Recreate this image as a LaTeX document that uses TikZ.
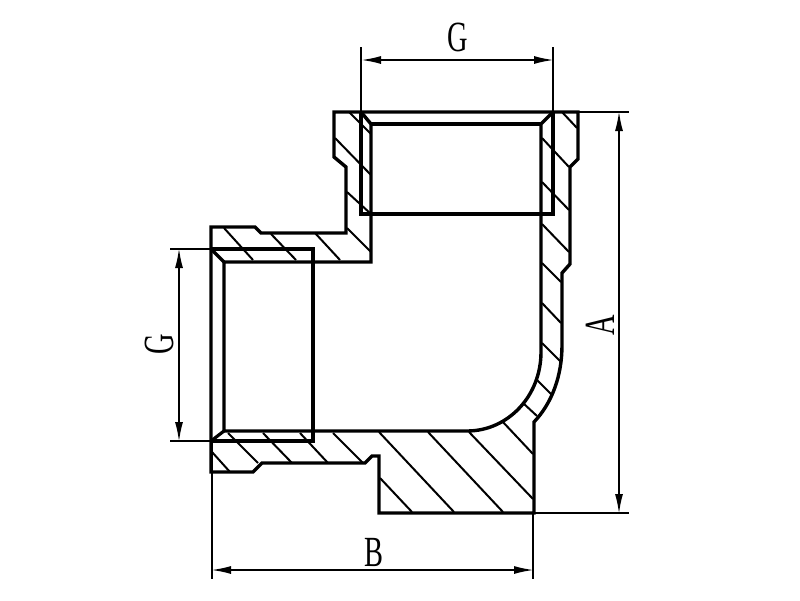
\documentclass[tikz,border=0pt]{standalone}
\usepackage{fontspec}
\setmainfont{Liberation Serif}
\usetikzlibrary{arrows.meta}
\tikzset{
  x=1pt,y=-1pt,
  body/.style={line width=3.4pt,line join=miter,black},
  inner/.style={line width=3.2pt,black},
  hatch/.style={line width=2pt,black},
  extline/.style={line width=1.7pt,black},
  dimline/.style={line width=1.9pt,black,{Latex[length=20pt,width=8pt]}-{Latex[length=20pt,width=8pt]},shorten >=-1pt,shorten <=-1pt},
  dimtext/.style={inner sep=0pt,font=\fontsize{43pt}{43pt}\selectfont},
}
\newcommand{\narrow}[1]{\scalebox{0.66}[1]{#1}}
\begin{document}
\begin{tikzpicture}
\useasboundingbox (0,0) rectangle (800,600);
% hatching
\foreach \a/\b/\c/\d in {
 349/112/371/134, 335/138/371/175, 347/192/371/214, 347/228/371/252,
 224/228/253/260, 271/234/296/260, 315/233/340/260,
 562/112/577/128, 542/138/569/167, 542/182/569/210, 542/224/569/252,
 542/263/561/282, 542/303/561/323, 542/343/561/362,
 536/379/552/395, 523/403/537/416, 502/421/533/454, 469/432/533/499,
 428/432/503/512, 379/432/454/512, 380/478/412/512,
 212/452/230/472, 228/433/258/463, 263/433/292/463, 300/433/328/463, 333/433/363/463}
 {\draw[hatch] (\a,\b) -- (\c,\d);}
% thread lines
\draw[inner] (361,112) -- (361,214) -- (553,214) -- (553,112);
\draw[inner] (211,249) -- (313,249) -- (313,441) -- (211,441);
% outer contour
\draw[body] (334,112) -- (578,112) -- (578,159) -- (570,167) -- (570,264) -- (562,273)
  -- (562,345) .. controls (562,376) and (552,403) .. (534,422) -- (534,513) -- (379,513)
  -- (379,456) -- (372,456) -- (365,463) -- (262,463) -- (253,472) -- (211,472)
  -- (211,227) -- (255,227) -- (261,233) -- (346,233) -- (346,167) -- (334,157) -- cycle;
% bore
\draw[body] (361,112) -- (371,124) -- (371,262) -- (224,262) -- (224,431) -- (467,431)
  .. controls (508,431) and (541,396) .. (541,352) -- (541,124) -- (553,112);
\draw[inner] (371,124) -- (541,124);
\draw[inner] (211,249) -- (224,262);
\draw[inner] (224,431) -- (211,441);
% extension lines
\coordinate (gta) at (361,47);   \coordinate (gtb) at (361,112);
\coordinate (gtc) at (553,47);   \coordinate (gtd) at (553,112);
\coordinate (gla) at (170,249);  \coordinate (glb) at (211,249);
\coordinate (glc) at (170,441);  \coordinate (gld) at (211,441);
\coordinate (aa) at (578,112);   \coordinate (ab) at (629,112);
\coordinate (ac) at (534,513);   \coordinate (ad) at (629,513);
\coordinate (ba) at (212,441);   \coordinate (bb) at (212,579);
\coordinate (bc) at (533,513);   \coordinate (bd) at (533,579);
\draw[extline] (gta) -- (gtb);
\draw[extline] (gtc) -- (gtd);
\draw[extline] (gla) -- (glb);
\draw[extline] (glc) -- (gld);
\draw[extline] (aa) -- (ab);
\draw[extline] (ac) -- (ad);
\draw[extline] (ba) -- (bb);
\draw[extline] (bc) -- (bd);
% dimension lines
\coordinate (d1a) at (362,60);  \coordinate (d1b) at (553,60);
\coordinate (d2a) at (179,249); \coordinate (d2b) at (179,441);
\coordinate (d3a) at (619,112); \coordinate (d3b) at (619,513);
\coordinate (d4a) at (212,570); \coordinate (d4b) at (533,570);
\draw[dimline] (d1a) -- (d1b);
\draw[dimline] (d2a) -- (d2b);
\draw[dimline] (d3a) -- (d3b);
\draw[dimline] (d4a) -- (d4b);
% labels
\node[dimtext] (lgt) at (458,37) {\narrow{G}};
\node[dimtext,rotate=90] (lgl) at (159,344) {\narrow{G}};
\node[dimtext,rotate=90] (la) at (600,325) {\narrow{A}};
\node[dimtext] (lb) at (374,552) {\narrow{B}};
\end{tikzpicture}
\end{document}
